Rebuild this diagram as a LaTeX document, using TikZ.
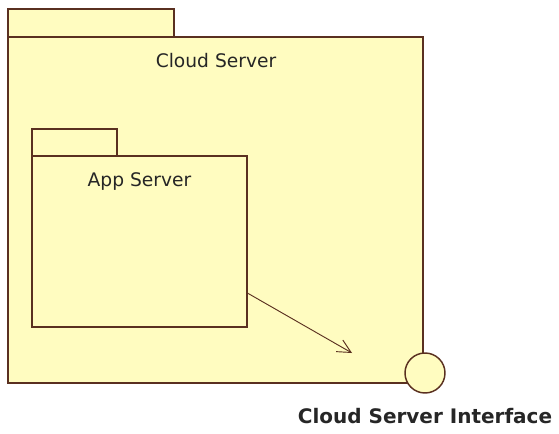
\documentclass[tikz,border=0pt]{standalone}
\usepackage{fontspec}
\setmainfont{DejaVu Sans}
\usepackage{tikz}
\usetikzlibrary{arrows.meta,positioning,calc}
\definecolor{pkgfill}{RGB}{255,252,192}
\definecolor{pkgline}{RGB}{90,48,32}

\begin{document}
\begin{tikzpicture}[x=0.75pt, y=-0.75pt, >={Straight Barb[length=10pt,width=10pt]},
    pkg/.style={draw=pkgline, fill=pkgfill, line width=1.1pt, inner sep=0pt, outer sep=0pt, anchor=north west},
    pkgname/.style={font=\fontsize{14}{17}\selectfont, text=black!85, inner sep=0pt, anchor=base},
    iface/.style={circle, draw=pkgline, fill=pkgfill, line width=1.1pt, minimum size=30pt, inner sep=0pt}]
    \useasboundingbox (0,0) rectangle (559,434);

    % Cloud Server package
    \node[pkg, minimum width=124.5pt, minimum height=21pt] (cloudtab) at (8,9) {};
    \node[pkg, minimum width=311.25pt, minimum height=259.5pt] (cloud) at (8,37) {};
    \node[pkgname] (cloudname) at (216,68) {Cloud Server};

    % App Server package
    \node[pkg, minimum width=63.75pt, minimum height=20.25pt] (apptab) at (32,129) {};
    \node[pkg, minimum width=161.25pt, minimum height=128.25pt] (app) at (32,156) {};
    \node[pkgname] (appname) at (139.5,187) {App Server};

    % Interface
    \node[iface] (iface) at (425,373) {};
    \node[below=11pt of iface, inner sep=0pt, text=black!85, font=\bfseries\fontsize{15}{18}\selectfont] (ifacename) {Cloud Server Interface};

    % Dependency
    \coordinate (depend) at (352,353);
    \draw[->, draw=pkgline, line width=0.7pt] ($(app.north east)!0.8!(app.south east)$) -- (depend);

\end{tikzpicture}
\end{document}
